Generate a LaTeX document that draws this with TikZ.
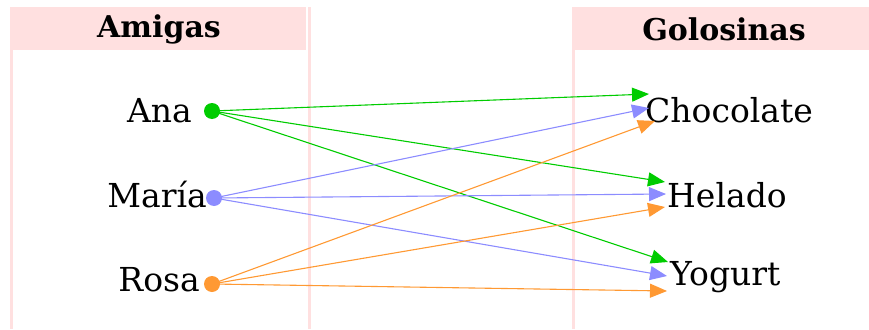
\documentclass[tikz,border=0pt]{standalone}
\usepackage{fontspec}
\setmainfont{DejaVu Serif}
\usetikzlibrary{arrows.meta}
\definecolor{pinkline}{HTML}{FFE0E0}
\definecolor{cgreen}{HTML}{00CC00}
\definecolor{cblue}{HTML}{8C8CFF}
\definecolor{corange}{HTML}{FF9933}
\begin{document}
\begin{tikzpicture}[x=1pt,y=-1pt,
  headtext/.style={font=\bfseries\fontsize{30}{32}\selectfont, inner sep=0},
  nametext/.style={font=\fontsize{33}{36}\selectfont, inner sep=0},
  dotnode/.style={circle, fill=#1, minimum size=16pt, inner sep=0},
  link/.style={draw=#1, line width=1.1pt, -{Triangle[length=17pt,width=14pt,fill=#1]}},
  panelline/.style={draw=pinkline, line width=3pt}]
\useasboundingbox (0,0) rectangle (869,329);
% panels
\fill[pinkline] (10,7) rectangle (306,50);
\fill[pinkline] (572,7) rectangle (869,50);
\draw[panelline] (11.5,7) -- (11.5,329);
\draw[panelline] (309,7) -- (309,329);
\draw[panelline] (573,7) -- (573,329);
\node[headtext] (hamigas) at (159,29) {Amigas};
\node[headtext] (hgolos) at (724,29) {Golosinas};
% names
\node[nametext, anchor=base east] (ana) at (192,122) {Ana};
\node[nametext, anchor=base east] (maria) at (207,207) {María};
\node[nametext, anchor=base east] (rosa) at (200,291) {Rosa};
\node[nametext, anchor=base west] (choc) at (645,122) {Chocolate};
\node[nametext, anchor=base west] (helado) at (667,207) {Helado};
\node[nametext, anchor=base west] (yogurt) at (670,285) {Yogurt};
% dots
\node[dotnode=cgreen] (dana) at (212,111) {};
\node[dotnode=cblue] (dmaria) at (214,198) {};
\node[dotnode=corange] (drosa) at (212,284) {};
% targets
\coordinate (cA) at (649,94);
\coordinate (cM) at (649,108);
\coordinate (cR) at (655,121);
\coordinate (hA) at (665,182);
\coordinate (hM) at (666,194);
\coordinate (hR) at (665,207);
\coordinate (yA) at (668,262);
\coordinate (yM) at (667,276);
\coordinate (yR) at (667,291);
% links
\draw[link=cgreen] (dana.center) -- (cA);
\draw[link=cgreen] (dana.center) -- (hA);
\draw[link=cgreen] (dana.center) -- (yA);
\draw[link=cblue] (dmaria.center) -- (cM);
\draw[link=cblue] (dmaria.center) -- (hM);
\draw[link=cblue] (dmaria.center) -- (yM);
\draw[link=corange] (drosa.center) -- (cR);
\draw[link=corange] (drosa.center) -- (hR);
\draw[link=corange] (drosa.center) -- (yR);
\end{tikzpicture}
\end{document}
